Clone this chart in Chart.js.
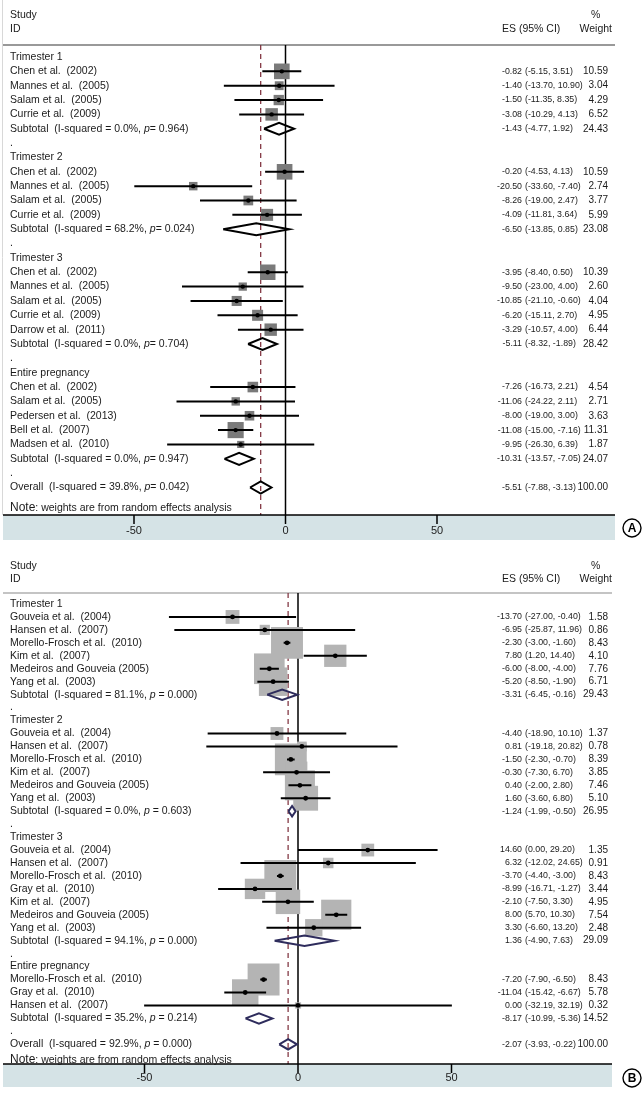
<!DOCTYPE html>
<html>
<head>
<meta charset="utf-8">
<script src="https://cdn.jsdelivr.net/npm/chart.js@4.4.0/dist/chart.umd.min.js"></script>
<style>
  html, body { margin: 0; padding: 0; background: #fff; }
  #wrap { position: relative; width: 643px; height: 1097px; }
  canvas { position: absolute; left: 0; }
  #forestA { top: 0; }
  #forestB { top: 548px; }
</style>
</head>
<body>
<div id="wrap">
  <canvas id="forestA" width="643" height="548"></canvas>
  <canvas id="forestB" width="643" height="549"></canvas>
</div>
<script>
// ---- Panel A data ----
const rowsA = [
  "Trimester 1", "Chen et al.  (2002)", "Mannes et al.  (2005)", "Salam et al.  (2005)", "Currie et al.  (2009)",
  "Subtotal  (I-squared = 0.0%, p= 0.964)", ".",
  "Trimester 2", "Chen et al.  (2002)", "Mannes et al.  (2005)", "Salam et al.  (2005)", "Currie et al.  (2009)",
  "Subtotal  (I-squared = 68.2%, p= 0.024)", ".",
  "Trimester 3", "Chen et al.  (2002)", "Mannes et al.  (2005)", "Salam et al.  (2005)", "Currie et al.  (2009)",
  "Darrow et al.  (2011)", "Subtotal  (I-squared = 0.0%, p= 0.704)", ".",
  "Entire pregnancy", "Chen et al.  (2002)", "Salam et al.  (2005)", "Pedersen et al.  (2013)", "Bell et al.  (2007)",
  "Madsen et al.  (2010)", "Subtotal  (I-squared = 0.0%, p= 0.947)", ".",
  "Overall  (I-squared = 39.8%, p= 0.042)"
];
// h = group header, s = study, t = subtotal, b = blank, o = overall
const kindA = ["h","s","s","s","s","t","b", "h","s","s","s","s","t","b",
  "h","s","s","s","s","s","t","b", "h","s","s","s","s","s","t","b", "o"];
const esA = [null, -0.82, -1.40, -1.50, -3.08, -1.43, null,
  null, -0.20, -20.50, -8.26, -4.09, -6.50, null,
  null, -3.95, -9.50, -10.85, -6.20, -3.29, -5.11, null,
  null, -7.26, -11.06, -8.00, -11.08, -9.95, -10.31, null, -5.51];
const loA = [null, -5.15, -13.70, -11.35, -10.29, -4.77, null,
  null, -4.53, -33.60, -19.00, -11.81, -13.85, null,
  null, -8.40, -23.00, -21.10, -15.11, -10.57, -8.32, null,
  null, -16.73, -24.22, -19.00, -15.00, -26.30, -13.57, null, -7.88];
const hiA = [null, 3.51, 10.90, 8.35, 4.13, 1.92, null,
  null, 4.13, -7.40, 2.47, 3.64, 0.85, null,
  null, 0.50, 4.00, -0.60, 2.70, 4.00, -1.89, null,
  null, 2.21, 2.11, 3.00, -7.16, 6.39, -7.05, null, -3.13];
const wtA = [null, 10.59, 3.04, 4.29, 6.52, 24.43, null,
  null, 10.59, 2.74, 3.77, 5.99, 23.08, null,
  null, 10.39, 2.60, 4.04, 4.95, 6.44, 28.42, null,
  null, 4.54, 2.71, 3.63, 11.31, 1.87, 24.07, null, 100.00];

// ---- Panel B data ----
const rowsB = [
  "Trimester 1", "Gouveia et al.  (2004)", "Hansen et al.  (2007)", "Morello-Frosch et al.  (2010)", "Kim et al.  (2007)",
  "Medeiros and Gouveia (2005)", "Yang et al.  (2003)", "Subtotal  (I-squared = 81.1%, p = 0.000)", ".",
  "Trimester 2", "Gouveia et al.  (2004)", "Hansen et al.  (2007)", "Morello-Frosch et al.  (2010)", "Kim et al.  (2007)",
  "Medeiros and Gouveia (2005)", "Yang et al.  (2003)", "Subtotal  (I-squared = 0.0%, p = 0.603)", ".",
  "Trimester 3", "Gouveia et al.  (2004)", "Hansen et al.  (2007)", "Morello-Frosch et al.  (2010)", "Gray et al.  (2010)",
  "Kim et al.  (2007)", "Medeiros and Gouveia (2005)", "Yang et al.  (2003)", "Subtotal  (I-squared = 94.1%, p = 0.000)", ".",
  "Entire pregnancy", "Morello-Frosch et al.  (2010)", "Gray et al.  (2010)", "Hansen et al.  (2007)",
  "Subtotal  (I-squared = 35.2%, p = 0.214)", ".",
  "Overall  (I-squared = 92.9%, p = 0.000)"
];
const kindB = ["h","s","s","s","s","s","s","t","b", "h","s","s","s","s","s","s","t","b",
  "h","s","s","s","s","s","s","s","t","b", "h","s","s","s","t","b", "o"];
const esB = [null, -13.70, -6.95, -2.30, 7.80, -6.00, -5.20, -3.31, null,
  null, -4.40, 0.81, -1.50, -0.30, 0.40, 1.60, -1.24, null,
  null, 14.60, 6.32, -3.70, -8.99, -2.10, 8.00, 3.30, 1.36, null,
  null, -7.20, -11.04, 0.00, -8.17, null, -2.07];
const loB = [null, -27.00, -25.87, -3.00, 1.20, -8.00, -8.50, -6.45, null,
  null, -18.90, -19.18, -2.30, -7.30, -2.00, -3.60, -1.99, null,
  null, 0.00, -12.02, -4.40, -16.71, -7.50, 5.70, -6.60, -4.90, null,
  null, -7.90, -15.42, -32.19, -10.99, null, -3.93];
const hiB = [null, -0.40, 11.96, -1.60, 14.40, -4.00, -1.90, -0.16, null,
  null, 10.10, 20.82, -0.70, 6.70, 2.80, 6.80, -0.50, null,
  null, 29.20, 24.65, -3.00, -1.27, 3.30, 10.30, 13.20, 7.63, null,
  null, -6.50, -6.67, 32.19, -5.36, null, -0.22];
const wtB = [null, 1.58, 0.86, 8.43, 4.10, 7.76, 6.71, 29.43, null,
  null, 1.37, 0.78, 8.39, 3.85, 7.46, 5.10, 26.95, null,
  null, 1.35, 0.91, 8.43, 3.44, 4.95, 7.54, 2.48, 29.09, null,
  null, 8.43, 5.78, 0.32, 14.52, null, 100.00];

const axisTicks = [-50, 0, 50];
const FONT = '"Liberation Sans", Arial, sans-serif';

// layout of each panel (canvas-local pixels)
const layA = {
  W: 643, H: 548, top: 45, row0: 57, step: 14.35, axisY: 515, bandH: 25,
  left: 3, right: 615, zero: 285.5, dataPx: 4.5, tickPx: 3.03, tickLabelY: 16,
  labX: 10, hdr1: 15, hdr2: 29, esHdrX: 502, pctX: 591, wHdrX: 612, esX: 522, wX: 608,
  noteY: 508, circX: 632, circY: 528, letter: "A", fontSize: 10.5, esSize: 8.8, wSize: 10,
  boxColor: "#7a7a7a", diaColor: "#000000", diaH: 0.42, dotR: 2.2, ciW: 2,
  boxSide: (w) => 1 + 4.5 * Math.sqrt(w), ruleColor: "#999999", leftLine: true
};
const layB = {
  W: 643, H: 549, top: 45, row0: 56, step: 12.95, axisY: 516, bandH: 23,
  left: 3, right: 612, zero: 298, dataPx: 4.78, tickPx: 3.07, tickLabelY: 14,
  labX: 10, hdr1: 18, hdr2: 31, esHdrX: 502, pctX: 591, wHdrX: 612, esX: 522, wX: 608,
  noteY: 512, circX: 632, circY: 530, letter: "B", fontSize: 10.5, esSize: 8.8, wSize: 10,
  boxColor: "#b4b4b4", diaColor: "#2e2c5c", diaH: 0.4, dotR: 2.4, ciW: 2,
  boxSide: (w) => 11 * Math.sqrt(w), ruleColor: "#c4c4c4", leftLine: false
};

function drawLabel(ctx, text, x, y, size) {
  // italic p in the heterogeneity label
  const i = text.indexOf(", p");
  if (i < 0) { ctx.fillText(text, x, y); return; }
  const a = text.slice(0, i + 2), rest = text.slice(i + 3);
  ctx.font = size + "px " + FONT;
  ctx.fillText(a, x, y);
  let cx = x + ctx.measureText(a).width;
  ctx.font = "italic " + size + "px " + FONT;
  ctx.fillText("p", cx, y);
  cx += ctx.measureText("p").width;
  ctx.font = size + "px " + FONT;
  ctx.fillText(rest, cx, y);
}

function forestPanel(canvasId, rows, kind, es, lo, hi, wt, lay) {
  const n = rows.length;
  const yMin = -(lay.row0 - lay.top) / lay.step;
  const yMax = (lay.axisY - lay.row0) / lay.step;
  const xMin = -(lay.zero - lay.left) / lay.dataPx;
  const xMax = (lay.right - lay.zero) / lay.dataPx;
  const tMin = -(lay.zero - lay.left) / lay.tickPx;
  const tMax = (lay.right - lay.zero) / lay.tickPx;

  const squares = [], sqR = [], dots = [], ci = [], dia = [];
  for (let i = 0; i < n; i++) {
    if (kind[i] === "s") {
      squares.push({ x: es[i], y: i });
      sqR.push(lay.boxSide(wt[i]) / Math.SQRT2);
      dots.push({ x: es[i], y: i });
      ci.push({ x: lo[i], y: i }, { x: hi[i], y: i }, { x: es[i], y: null });
    } else if (kind[i] === "t" || kind[i] === "o") {
      const h = lay.diaH;
      dia.push({ x: lo[i], y: i }, { x: es[i], y: i - h }, { x: hi[i], y: i },
        { x: es[i], y: i + h }, { x: lo[i], y: i }, { x: es[i], y: null });
    }
  }
  const overall = es[n - 1];

  const textPlugin = {
    id: "forestText",
    beforeDraw(chart) {
      const ctx = chart.ctx, ca = chart.chartArea;
      ctx.save();
      // axis band
      ctx.fillStyle = "#d5e3e6";
      ctx.fillRect(ca.left, ca.bottom, ca.right - ca.left, lay.bandH);
      ctx.strokeStyle = lay.ruleColor;
      ctx.lineWidth = 2;
      ctx.beginPath();
      ctx.moveTo(ca.left, lay.top);
      ctx.lineTo(ca.right, lay.top);
      ctx.stroke();
      if (lay.leftLine) {
        ctx.strokeStyle = "#d8d8d8";
        ctx.lineWidth = 1;
        ctx.beginPath();
        ctx.moveTo(lay.left - 0.5, 0);
        ctx.lineTo(lay.left - 0.5, ca.bottom);
        ctx.stroke();
      }
      ctx.restore();
    },
    afterDraw(chart) {
      const ctx = chart.ctx, ys = chart.scales.y, xt = chart.scales.xt, ca = chart.chartArea;
      const fs = lay.fontSize;
      ctx.save();

      // x axis line, ticks and labels from the tick scale
      ctx.strokeStyle = "#000";
      ctx.lineWidth = 1.5;
      ctx.beginPath();
      ctx.moveTo(ca.left, ca.bottom);
      ctx.lineTo(ca.right, ca.bottom);
      ctx.stroke();
      ctx.font = "11px " + FONT;
      ctx.fillStyle = "#222";
      ctx.textAlign = "center";
      ctx.textBaseline = "middle";
      axisTicks.forEach((v) => {
        const px = xt.getPixelForValue(v);
        ctx.beginPath();
        ctx.moveTo(px, ca.bottom);
        ctx.lineTo(px, ca.bottom + 9);
        ctx.stroke();
        ctx.fillText(String(v), px, ca.bottom + lay.tickLabelY);
      });

      ctx.fillStyle = "#1a1a1a";
      ctx.font = fs + "px " + FONT;
      ctx.textAlign = "left";
      ctx.fillText("Study", lay.labX, lay.hdr1);
      ctx.fillText("ID", lay.labX, lay.hdr2);
      ctx.fillText("ES (95% CI)", lay.esHdrX, lay.hdr2);
      ctx.fillText("%", lay.pctX, lay.hdr1);
      ctx.textAlign = "right";
      ctx.fillText("Weight", lay.wHdrX, lay.hdr2);

      for (let i = 0; i < n; i++) {
        const y = ys.getPixelForValue(i);
        ctx.textAlign = "left";
        ctx.font = fs + "px " + FONT;
        drawLabel(ctx, rows[i], lay.labX, y, fs);
        if (es[i] === null) continue;
        ctx.textAlign = "right";
        ctx.font = lay.wSize + "px " + FONT;
        ctx.fillText(wt[i].toFixed(2), lay.wX, y);
        ctx.font = lay.esSize + "px " + FONT;
        ctx.fillText(es[i].toFixed(2), lay.esX, y);
        ctx.textAlign = "left";
        ctx.fillText("(" + lo[i].toFixed(2) + ", " + hi[i].toFixed(2) + ")", lay.esX + 3, y);
      }

      // note
      ctx.textAlign = "left";
      ctx.font = (fs + 1.5) + "px " + FONT;
      ctx.fillText("Note", lay.labX, lay.noteY);
      const nw = ctx.measureText("Note").width;
      ctx.font = fs + "px " + FONT;
      ctx.fillText(": weights are from random effects analysis", lay.labX + nw, lay.noteY);

      // panel letter
      ctx.strokeStyle = "#000";
      ctx.lineWidth = 1.4;
      ctx.beginPath();
      ctx.arc(lay.circX, lay.circY, 9, 0, Math.PI * 2);
      ctx.stroke();
      ctx.font = "bold 12px " + FONT;
      ctx.textAlign = "center";
      ctx.fillStyle = "#000";
      ctx.fillText(lay.letter, lay.circX, lay.circY + 0.5);
      ctx.restore();
    }
  };

  return new Chart(document.getElementById(canvasId), {
    type: "scatter",
    data: {
      datasets: [
        { type: "line", data: ci, borderColor: "#000", borderWidth: lay.ciW, pointRadius: 0, spanGaps: false, order: 1 },
        { data: dots, pointRadius: lay.dotR, pointBackgroundColor: "#000", pointBorderWidth: 0, order: 0 },
        { type: "line", data: dia, borderColor: lay.diaColor, borderWidth: 2, pointRadius: 0, spanGaps: false,
          borderJoinStyle: "miter", order: 2 },
        { data: squares, pointStyle: "rect", pointRadius: sqR, pointBackgroundColor: lay.boxColor,
          pointBorderWidth: 0, order: 3 },
        { type: "line", data: [{ x: overall, y: yMin }, { x: overall, y: yMax }], borderColor: "#7b2a36",
          borderWidth: 1.2, borderDash: [5, 4], pointRadius: 0, order: 4 },
        { type: "line", data: [{ x: 0, y: yMin }, { x: 0, y: yMax }], borderColor: "#000",
          borderWidth: 1.5, pointRadius: 0, order: 5 }
      ]
    },
    options: {
      responsive: false,
      animation: false,
      events: [],
      layout: { autoPadding: false,
        padding: { left: lay.left, right: lay.W - lay.right, top: lay.top, bottom: lay.H - lay.axisY } },
      plugins: { legend: { display: false }, tooltip: { enabled: false } },
      scales: {
        x: { type: "linear", min: xMin, max: xMax, display: false },
        y: { type: "linear", min: yMin, max: yMax, reverse: true, display: false },
        xt: { type: "linear", axis: "x", position: "bottom", min: tMin, max: tMax, display: false }
      }
    },
    plugins: [textPlugin]
  });
}

forestPanel("forestA", rowsA, kindA, esA, loA, hiA, wtA, layA);
forestPanel("forestB", rowsB, kindB, esB, loB, hiB, wtB, layB);
</script>
</body>
</html>
